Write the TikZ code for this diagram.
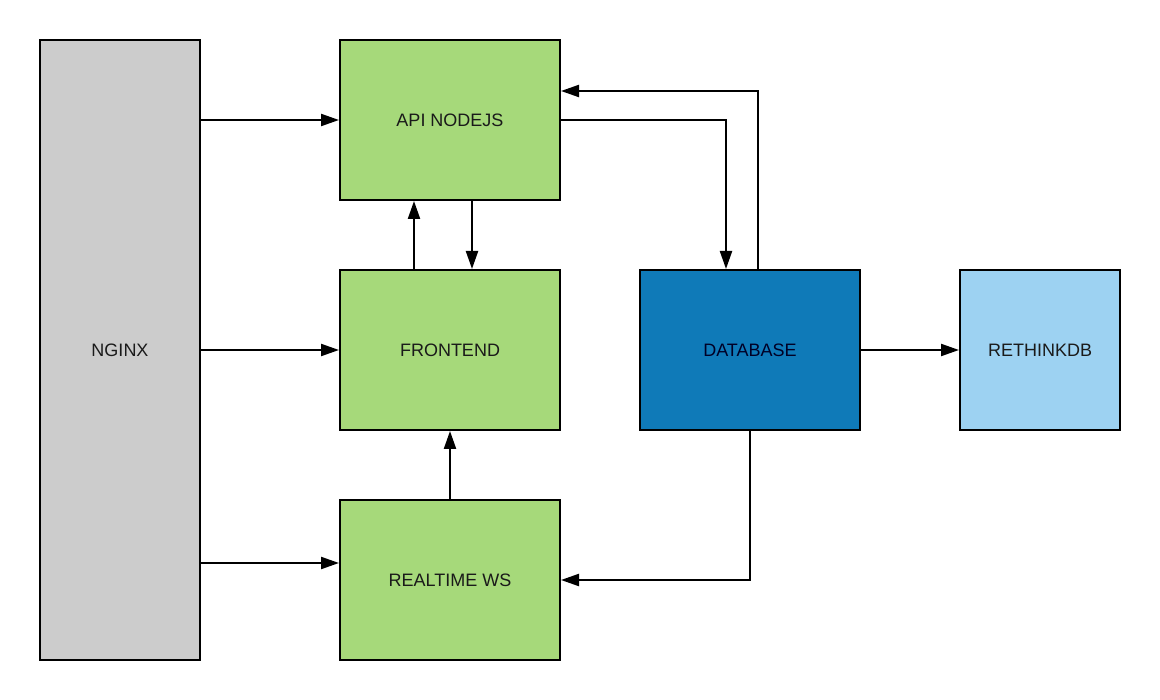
\documentclass[tikz,border=0pt]{standalone}
\usepackage{fontspec}
\setmainfont{Liberation Sans}
\usetikzlibrary{arrows.meta}
\definecolor{nggray}{HTML}{CCCCCC}
\definecolor{apigreen}{HTML}{A6D97A}
\definecolor{dbblue}{HTML}{0F7AB8}
\definecolor{rtblue}{HTML}{9DD2F2}
\definecolor{txt}{HTML}{1A1A1A}
\tikzset{
  box/.style={draw=black, line width=2pt, inner sep=0pt, text=txt, font=\fontsize{18}{20}\selectfont},
  conn/.style={line width=2.2pt, -{Triangle[length=18pt,width=12pt]}},
}
\begin{document}
\begin{tikzpicture}[x=1pt,y=-1pt]
\useasboundingbox (0,0) rectangle (1160,700);
\node[box, fill=nggray, minimum width=160pt, minimum height=620pt] (nginx) at (120,350) {NGINX};
\node[box, fill=apigreen, minimum width=220pt, minimum height=160pt] (api) at (450,120) {API NODEJS};
\node[box, fill=apigreen, minimum width=220pt, minimum height=160pt] (front) at (450,350) {FRONTEND};
\node[box, fill=apigreen, minimum width=220pt, minimum height=160pt] (rt) at (450,580) {REALTIME WS};
\node[box, fill=dbblue, minimum width=220pt, minimum height=160pt, text=black!85!blue] (db) at (750,350) {DATABASE};
\node[box, fill=rtblue, minimum width=160pt, minimum height=160pt] (rdb) at (1040,350) {RETHINKDB};

\draw[conn] (nginx.east |- api.west) -- (api.west);
\draw[conn] (nginx.east |- front.west) -- (front.west);
\draw[conn] (nginx.east |- 0,563) -- (rt.west |- 0,563);
\draw[conn] (front.north -| 414,0) -- (api.south -| 414,0);
\draw[conn] (api.south -| 472,0) -- (front.north -| 472,0);
\draw[conn] (rt.north) -- (front.south);
\draw[conn] (api.east) -| (db.north -| 726,0);
\draw[conn] (db.north -| 758,0) |- (api.east |- 0,91);
\draw[conn] (db.south) |- (rt.east);
\draw[conn] (db.east) -- (rdb.west);
\end{tikzpicture}
\end{document}
